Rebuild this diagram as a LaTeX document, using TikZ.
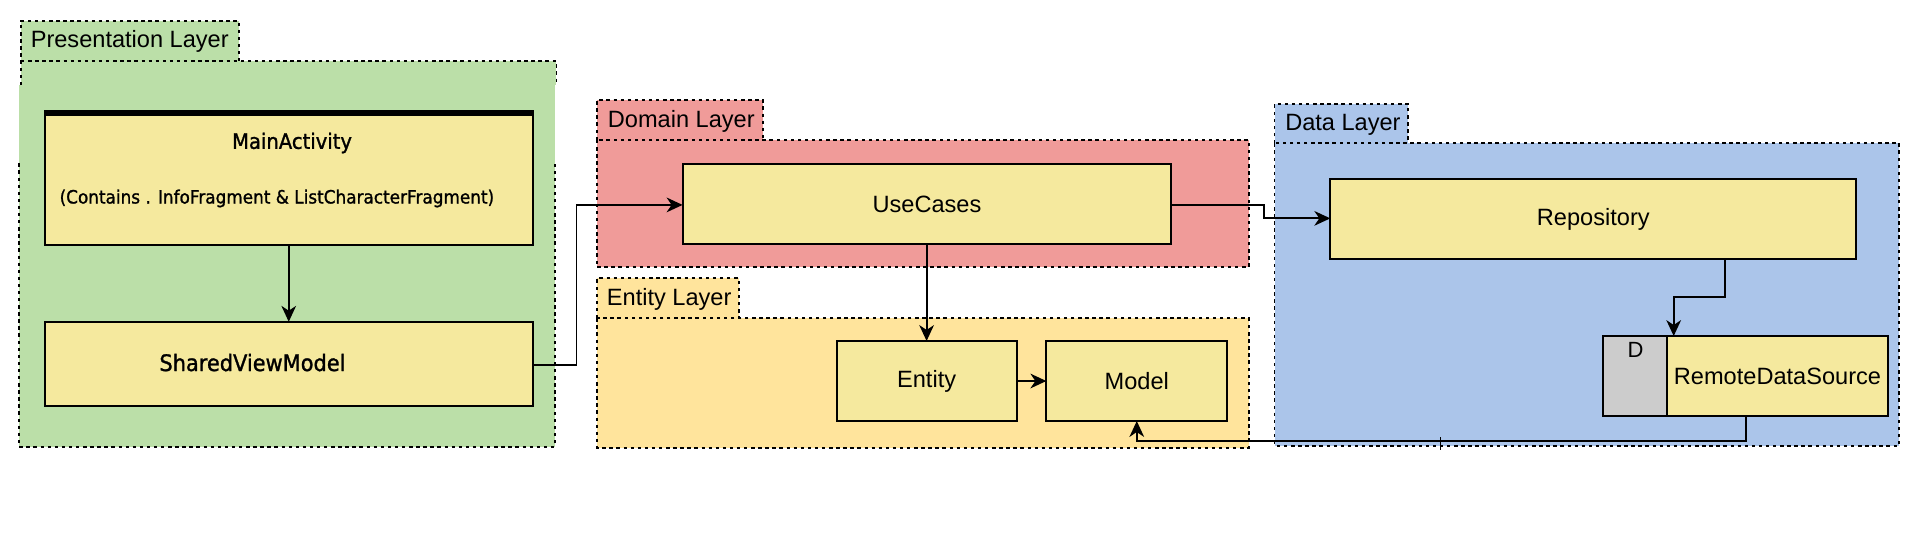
\documentclass[tikz,border=0pt]{standalone}
\usepackage{fontspec}
\setmainfont{Liberation Sans}
\newfontfamily\condf[FakeStretch=0.92,FakeBold=1.2]{DejaVu Sans}
\usetikzlibrary{arrows.meta}
\definecolor{greenL}{HTML}{BBDFA8}
\definecolor{redL}{HTML}{F09B99}
\definecolor{orangeL}{HTML}{FFE49C}
\definecolor{blueL}{HTML}{ABC5EA}
\definecolor{boxY}{HTML}{F5E99E}
\definecolor{grayD}{HTML}{CCCCCC}
\tikzset{
  lay/.style={line width=1.6pt, dash pattern=on 2.8pt off 3pt},
  box/.style={draw, fill=boxY, line width=1.6pt, inner sep=0pt, outer sep=0pt, font=\fontsize{19.3}{23}\selectfont},
  laytxt/.style={anchor=west, inner sep=0pt, font=\fontsize{19.3}{23}\selectfont},
  arr/.style={line width=1.5pt, -{Stealth[length=13pt, width=12pt, inset=4pt]}},
  ln/.style={line width=1.5pt}
}
\begin{document}
\begin{tikzpicture}[x=1pt,y=-1pt]
\useasboundingbox[fill=white] (0,0) rectangle (1568,437);

% ---------- Presentation layer
\fill[greenL] (17.2,17.3) rectangle (195.6,50.1);
\fill[greenL] (17.2,50.1) rectangle (455.4,69.7);
\fill[greenL] (15.6,69.7) rectangle (453.9,365.5);
\draw[lay] (17.2,69.7) -- (17.2,17.3) -- (195.6,17.3) -- (195.6,50.1);
\draw[lay] (17.2,50.1) -- (455.4,50.1) -- (455.4,69.7);
\draw[lay] (15.6,133.7) -- (15.6,365.5) -- (453.9,365.5) -- (453.9,133.7);
\node[laytxt] (lpres) at (25,34) {Presentation Layer};

% ---------- Domain layer
\fill[redL] (488.5,81.8) rectangle (624.4,114.6);
\fill[redL] (488.5,114.6) rectangle (1021.8,218.8);
\draw[lay] (488.5,114.6) -- (488.5,81.8) -- (624.4,81.8) -- (624.4,114.6);
\draw[lay] (488.5,114.6) rectangle (1021.8,218.8);
\node[laytxt] (ldom) at (497.3,99.6) {Domain Layer};

% ---------- Entity layer
\fill[orangeL] (488.5,227.8) rectangle (604.6,260.5);
\fill[orangeL] (488.5,260.5) rectangle (1021.8,366.3);
\draw[lay] (488.5,260.5) -- (488.5,227.8) -- (604.6,227.8) -- (604.6,260.5);
\draw[lay] (488.5,260.5) rectangle (1021.8,366.3);
\node[laytxt] (lent) at (496.5,244.7) {Entity Layer};

% ---------- Data layer
\fill[blueL] (1043,85.1) rectangle (1152.5,117.3);
\fill[blueL] (1043,117.3) rectangle (1554.4,364.7);
\draw[lay] (1043,117.3) -- (1043,85.1) -- (1152.5,85.1) -- (1152.5,117.3);
\draw[lay] (1043,117.3) rectangle (1554.4,364.7);
\node[laytxt] (ldat) at (1051.6,102.3) {Data Layer};

% ---------- boxes
\node[box, minimum width=399.4pt, minimum height=110.1pt] (ma) at (236.3,145.55) {};
\fill (ma.north west) rectangle ([yshift=-4.5pt]ma.north east);
\node[inner sep=0pt, font=\condf\fontsize{17.4}{20}\selectfont] (matxt) at (239,117) {MainActivity};
\node[inner sep=0pt, font=\condf\fontsize{15}{18}\selectfont] (macont) at (226.6,162.4) {(Contains . InfoFragment \& ListCharacterFragment)};

\node[box, minimum width=399.4pt, minimum height=68.8pt] (svm) at (236.3,297.7) {};
\node[inner sep=0pt, font=\condf\fontsize{18.6}{22}\selectfont] (svmtxt) at (206.6,296.7) {SharedViewModel};

\node[box, minimum width=400pt, minimum height=65.5pt] (uc) at (758.6,167) {UseCases};
\node[box, minimum width=147.3pt, minimum height=65.5pt] (ent) at (758.3,311.8) {Entity};
\node[box, minimum width=148pt, minimum height=65.5pt] (mod) at (930.3,311.8) {Model};
\node[box, minimum width=430.5pt, minimum height=65.5pt] (repo) at (1303.9,179.3) {Repository};
\node[box, fill=grayD, minimum width=52.3pt, minimum height=65.5pt] (rdsd) at (1338.35,307.75) {};
\node[inner sep=0pt, font=\fontsize{18}{21}\selectfont] (dtxt) at (1338.4,286.4) {D};
\node[box, minimum width=180.3pt, minimum height=65.5pt] (rds) at (1454.65,307.75) {RemoteDataSource};

% ---------- connectors
\coordinate (c1) at (471.8,298.7);
\coordinate (c2) at (471.8,167.7);
\coordinate (c3) at (1034.5,167.7);
\coordinate (c4) at (1034.5,178.7);
\coordinate (c5) at (1411.4,242.8);
\coordinate (c6) at (1369.7,242.8);
\coordinate (c7) at (1428.9,360.6);
\coordinate (c8) at (930.3,360.6);

\draw[arr] (ma.south) -- (svm.north);
\draw[arr] (svm.east |- c1) -- (c1) -- (c2) -- (uc.west |- c2);
\draw[arr] (uc.south -| ent.north) -- (ent.north);
\draw[arr] (ent.east) -- (mod.west);
\draw[arr] (uc.east |- c3) -- (c3) -- (c4) -- (repo.west |- c4);
\draw[arr] (repo.south -| c5) -- (c5) -- (c6) -- (rds.north -| c6);
\draw[arr] (rds.south -| c7) -- (c7) -- (c8) -- (mod.south);

% small tick mark
\coordinate (t1) at (1178.8,357.9);
\coordinate (t2) at (1178.8,368.3);
\draw[line width=1.3pt] (t1) -- (t2);
\end{tikzpicture}
\end{document}
